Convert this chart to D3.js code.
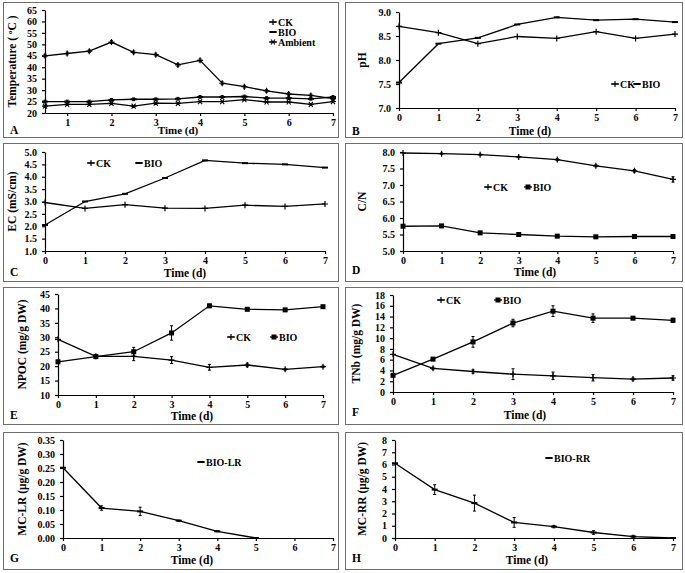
<!DOCTYPE html>
<html>
<head>
<meta charset="utf-8">
<script src="https://cdn.jsdelivr.net/npm/d3@7"></script>
<style>
body { margin: 0; background: #fff; }
svg text { font-family: "Liberation Serif", "Times New Roman", serif; font-weight: bold; fill: #000; }
</style>
</head>
<body>
<svg id="chart" width="685" height="573"></svg>
<script>
// sampling days
var days = [0, 1, 2, 3, 4, 5, 6, 7];
var tempDays = [0.5, 1, 1.5, 2, 2.5, 3, 3.5, 4, 4.5, 5, 5.5, 6, 6.5, 7];

// A - temperature
var tempCK = [45, 46, 47, 51, 46.5, 45.5, 41, 43, 33, 31.5, 29.7, 28.3, 27.7, 26.3];
var tempBIO = [25, 25, 25, 25.7, 26, 26, 26.2, 27, 27, 27.2, 26.5, 26.5, 26.2, 27];
var tempAmbient = [23, 23.8, 23.8, 24.2, 23, 24.3, 24.2, 25, 25, 25.8, 24.8, 24.8, 23.8, 25];

// B - pH
var phCK = [8.70, 8.57, 8.34, 8.49, 8.45, 8.59, 8.45, 8.54];
var phBIO = [7.53, 8.34, 8.46, 8.74, 8.89, 8.83, 8.85, 8.79];

// C - EC
var ecCK = [2.96, 2.72, 2.87, 2.73, 2.72, 2.85, 2.80, 2.90];
var ecBIO = [2.05, 3.00, 3.31, 3.95, 4.66, 4.55, 4.50, 4.37];

// D - C/N
var cnCK = [7.97, 7.95, 7.92, 7.85, 7.77, 7.58, 7.43, 7.17];
var cnCKErr = [0, 0.02, 0.02, 0.02, 0.03, 0.03, 0.04, 0.08];
var cnBIO = [5.75, 5.76, 5.55, 5.50, 5.45, 5.43, 5.44, 5.44];

// E - NPOC
var npocCK = [29.3, 23.4, 23.4, 22.1, 19.6, 20.4, 18.9, 19.8];
var npocCKErr = [0, 0.5, 1.5, 1.2, 1.0, 0.6, 0.3, 0.3];
var npocBIO = [21.5, 23.3, 25.0, 31.5, 40.9, 39.7, 39.5, 40.6];
var npocBIOErr = [0.5, 0.6, 1.5, 2.5, 0.6, 0.4, 0.4, 0.4];

// F - TNb
var tnbCK = [7.0, 4.4, 3.8, 3.3, 3.0, 2.65, 2.4, 2.6];
var tnbCKErr = [0, 0.2, 0.3, 1.0, 0.7, 0.6, 0.2, 0.4];
var tnbBIO = [3.1, 6.1, 9.3, 12.8, 15.0, 13.7, 13.7, 13.3];
var tnbBIOErr = [0.3, 0.2, 1.0, 0.7, 1.0, 0.8, 0.2, 0.4];

// G - MC-LR
var lrDays = [0, 1, 2, 3, 4, 5];
var mclrBIO = [0.251, 0.107, 0.095, 0.062, 0.024, 0];
var mclrErr = [0, 0.008, 0.015, 0.002, 0.002, 0];

// H - MC-RR
var mcrrBIO = [6.1, 3.95, 2.85, 1.27, 0.93, 0.45, 0.12, 0];
var mcrrErr = [0, 0.4, 0.65, 0.4, 0.1, 0.15, 0.1, 0];

var svg = d3.select('#chart');

function drawMarker(g, type, cx, cy) {
    var s = 3;
    if (type === 'plus') {
        g.append('path').attr('d', 'M' + (cx - s) + ',' + cy + 'H' + (cx + s) + 'M' + cx + ',' + (cy - s) + 'V' + (cy + s))
            .attr('stroke', '#000').attr('stroke-width', 1.2);
    } else if (type === 'dash') {
        g.append('path').attr('d', 'M' + (cx - s) + ',' + cy + 'H' + (cx + s))
            .attr('stroke', '#000').attr('stroke-width', 2);
    } else if (type === 'star') {
        var d = 'M' + (cx - s) + ',' + cy + 'H' + (cx + s) +
            'M' + (cx - 2) + ',' + (cy - 2.5) + 'L' + (cx + 2) + ',' + (cy + 2.5) +
            'M' + (cx + 2) + ',' + (cy - 2.5) + 'L' + (cx - 2) + ',' + (cy + 2.5);
        g.append('path').attr('d', d).attr('stroke', '#000').attr('stroke-width', 1.1);
    } else if (type === 'square') {
        g.append('rect').attr('x', cx - 2.5).attr('y', cy - 2.5).attr('width', 5).attr('height', 5).attr('fill', '#000');
    }
}

function drawPanel(p) {
    var g = svg.append('g');
    g.append('rect')
        .attr('x', p.box[0] + 0.5).attr('y', p.box[1] + 0.5)
        .attr('width', p.box[2] - p.box[0]).attr('height', p.box[3] - p.box[1])
        .attr('fill', 'none').attr('stroke', '#6e6e6e').attr('stroke-width', 1);

    var x = d3.scaleLinear().domain(p.xDomain).range([p.left, p.right]);
    var y = d3.scaleLinear().domain(p.yDomain).range([p.bottom, p.top]);

    var yTicks = d3.range(p.yDomain[0], p.yDomain[1] + p.yStep / 2, p.yStep);
    var yAxis = d3.axisLeft(y).tickValues(yTicks).tickFormat(d3.format(p.yFmt))
        .tickSize(3).tickSizeOuter(0).tickPadding(5);
    var xAxis = d3.axisBottom(x).tickValues(p.xTicks).tickFormat(d3.format('d'))
        .tickSize(3).tickSizeOuter(0).tickPadding(3);

    var ya = g.append('g').attr('transform', 'translate(' + p.left + ',0)').call(yAxis);
    var xa = g.append('g').attr('transform', 'translate(0,' + p.bottom + ')').call(xAxis);
    [ya, xa].forEach(function(a) {
        a.selectAll('path, line').attr('stroke', '#000').attr('stroke-width', 1.2);
        a.selectAll('text').attr('font-size', '10px').attr('font-family', null);
    });

    var line = d3.line()
        .x(function(d) { return x(d[0]); })
        .y(function(d) { return y(d[1]); });

    p.series.forEach(function(s) {
        var pts = s.xs.map(function(v, i) { return [v, s.ys[i]]; });
        g.append('path').datum(pts).attr('d', line)
            .attr('fill', 'none').attr('stroke', '#000').attr('stroke-width', 1.3);
        if (s.err) {
            s.xs.forEach(function(v, i) {
                var e = s.err[i];
                if (!e) { return; }
                g.append('path')
                    .attr('d', 'M' + x(v) + ',' + y(s.ys[i] - e) + 'V' + y(s.ys[i] + e) +
                        'M' + (x(v) - 1.5) + ',' + y(s.ys[i] - e) + 'h3' +
                        'M' + (x(v) - 1.5) + ',' + y(s.ys[i] + e) + 'h3')
                    .attr('stroke', '#000').attr('stroke-width', 1);
            });
        }
        s.xs.forEach(function(v, i) {
            drawMarker(g, s.marker, x(v), y(s.ys[i]));
        });
    });

    p.legend.forEach(function(l) {
        g.append('path').attr('d', 'M' + (l.x - 4) + ',' + l.y + 'H' + (l.x + 4))
            .attr('stroke', '#000').attr('stroke-width', 1.3);
        drawMarker(g, l.marker, l.x, l.y);
        g.append('text').attr('x', l.x + 5).attr('y', l.y + 3.5)
            .attr('font-size', '10px').text(l.label);
    });

    var yl = g.append('text')
        .attr('transform', 'translate(' + p.ylabX + ',' + ((p.top + p.bottom) / 2) + ') rotate(-90)')
        .attr('text-anchor', 'middle').attr('font-size', '11.5px');
    if (p.ylabSup) {
        yl.append('tspan').text(p.ylab[0]);
        yl.append('tspan').attr('baseline-shift', 'super').attr('font-size', '7px').text(p.ylabSup);
        yl.append('tspan').text(p.ylab[1]);
    } else {
        yl.text(p.ylab);
    }

    g.append('text').attr('x', p.xlab[0]).attr('y', p.xlab[1])
        .attr('text-anchor', 'middle').attr('font-size', p.xlabSize || '11.5px').text('Time (d)');
    g.append('text').attr('x', p.box[0] + 7).attr('y', p.letterY)
        .attr('font-size', '11.5px').text(p.letter);
}

var panels = [
    {
        letter: 'A', box: [3, 2, 338, 137], left: 45, right: 333, top: 10, bottom: 113,
        xDomain: [0.5, 7], xTicks: [1, 2, 3, 4, 5, 6, 7], yDomain: [20, 65], yStep: 5, yFmt: 'd',
        ylab: ['Temperature ( ', 'C )'], ylabSup: 'o', ylabX: 16, xlab: [178, 134], xlabSize: '11px', letterY: 134,
        series: [
            { xs: tempDays, ys: tempCK, marker: 'plus', err: tempCK.map(function() { return 0.6; }) },
            { xs: tempDays, ys: tempBIO, marker: 'dash', err: tempBIO.map(function() { return 0.6; }) },
            { xs: tempDays, ys: tempAmbient, marker: 'star' }
        ],
        legend: [
            { x: 273, y: 22, marker: 'plus', label: 'CK' },
            { x: 273, y: 32, marker: 'dash', label: 'BIO' },
            { x: 273, y: 42, marker: 'star', label: 'Ambient' }
        ]
    },
    {
        letter: 'B', box: [345, 2, 682, 137], left: 399, right: 675, top: 12, bottom: 108,
        xDomain: [0, 7], xTicks: days, yDomain: [7, 9], yStep: 0.5, yFmt: '.1f',
        ylab: 'pH', ylabX: 366, xlab: [530, 135], letterY: 135,
        series: [
            { xs: days, ys: phCK, marker: 'plus' },
            { xs: days, ys: phBIO, marker: 'dash' }
        ],
        legend: [
            { x: 615, y: 84, marker: 'plus', label: 'CK' },
            { x: 637, y: 84, marker: 'dash', label: 'BIO' }
        ]
    },
    {
        letter: 'C', box: [3, 143, 338, 281], left: 45, right: 325, top: 152, bottom: 251,
        xDomain: [0, 7], xTicks: days, yDomain: [1, 5], yStep: 0.5, yFmt: '.1f',
        ylab: 'EC (mS/cm)', ylabX: 16, xlab: [185, 277], letterY: 276,
        series: [
            { xs: days, ys: ecCK, marker: 'plus' },
            { xs: days, ys: ecBIO, marker: 'dash' }
        ],
        legend: [
            { x: 91, y: 163, marker: 'plus', label: 'CK' },
            { x: 139, y: 163, marker: 'dash', label: 'BIO' }
        ]
    },
    {
        letter: 'D', box: [345, 143, 682, 281], left: 403, right: 673, top: 152, bottom: 251,
        xDomain: [0, 7], xTicks: days, yDomain: [5, 8], yStep: 0.5, yFmt: '.1f',
        ylab: 'C/N', ylabX: 366, xlab: [535, 276], letterY: 274,
        series: [
            { xs: days, ys: cnCK, marker: 'plus', err: cnCKErr },
            { xs: days, ys: cnBIO, marker: 'square' }
        ],
        legend: [
            { x: 488, y: 187, marker: 'plus', label: 'CK' },
            { x: 528, y: 187, marker: 'square', label: 'BIO' }
        ]
    },
    {
        letter: 'E', box: [3, 287, 338, 424], left: 58, right: 323, top: 294, bottom: 395,
        xDomain: [0, 7], xTicks: days, yDomain: [10, 45], yStep: 5, yFmt: 'd',
        ylab: 'NPOC (mg/g DW)', ylabX: 26, xlab: [192, 420], letterY: 419,
        series: [
            { xs: days, ys: npocCK, marker: 'plus', err: npocCKErr },
            { xs: days, ys: npocBIO, marker: 'square', err: npocBIOErr }
        ],
        legend: [
            { x: 231, y: 337, marker: 'plus', label: 'CK' },
            { x: 274, y: 337, marker: 'square', label: 'BIO' }
        ]
    },
    {
        letter: 'F', box: [345, 287, 682, 424], left: 393, right: 673, top: 295, bottom: 392,
        xDomain: [0, 7], xTicks: days, yDomain: [0, 18], yStep: 2, yFmt: 'd',
        ylab: 'TNb (mg/g DW)', ylabX: 360, xlab: [525, 419], letterY: 416,
        series: [
            { xs: days, ys: tnbCK, marker: 'plus', err: tnbCKErr },
            { xs: days, ys: tnbBIO, marker: 'square', err: tnbBIOErr }
        ],
        legend: [
            { x: 441, y: 300, marker: 'plus', label: 'CK' },
            { x: 498, y: 300, marker: 'square', label: 'BIO' }
        ]
    },
    {
        letter: 'G', box: [3, 432, 338, 569], left: 63, right: 333, top: 440, bottom: 538,
        xDomain: [0, 7], xTicks: days, yDomain: [0, 0.35], yStep: 0.05, yFmt: '.2f',
        ylab: 'MC-LR (\u03bcg/g DW)', ylabX: 26, xlab: [192, 564], letterY: 562,
        series: [
            { xs: lrDays, ys: mclrBIO, marker: 'dash', err: mclrErr }
        ],
        legend: [
            { x: 201, y: 462, marker: 'dash', label: 'BIO-LR' }
        ]
    },
    {
        letter: 'H', box: [345, 432, 682, 569], left: 395, right: 673, top: 440, bottom: 538,
        xDomain: [0, 7], xTicks: days, yDomain: [0, 8], yStep: 1, yFmt: 'd',
        ylab: 'MC-RR (\u03bcg/g DW)', ylabX: 366, xlab: [527, 564], letterY: 562,
        series: [
            { xs: days, ys: mcrrBIO, marker: 'dash', err: mcrrErr }
        ],
        legend: [
            { x: 549, y: 458, marker: 'dash', label: 'BIO-RR' }
        ]
    }
];

panels.forEach(drawPanel);
</script>
</body>
</html>
